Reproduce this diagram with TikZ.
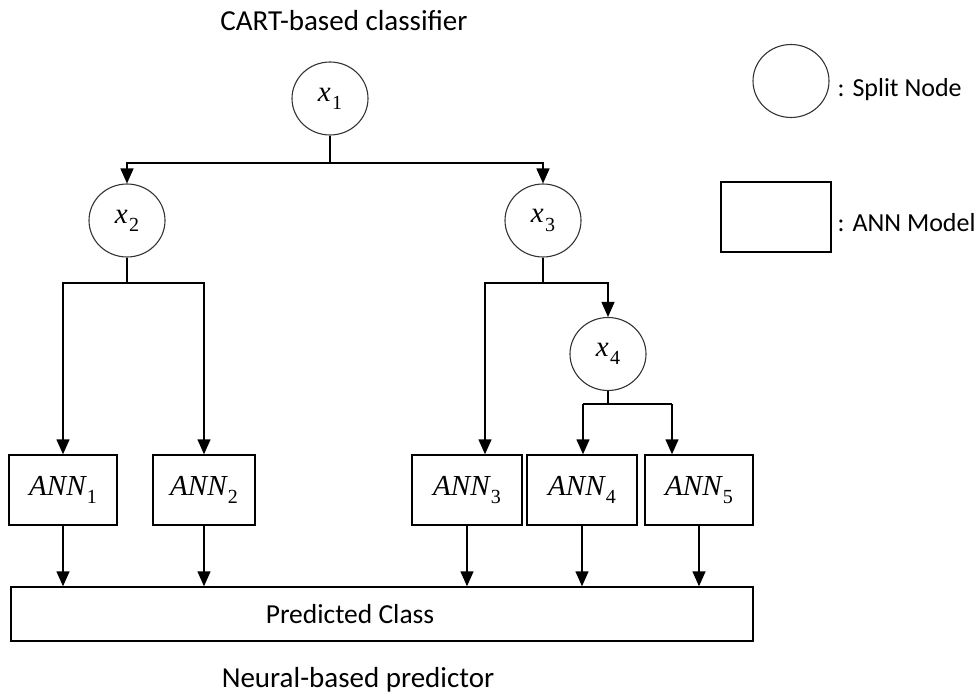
\documentclass[tikz,border=0pt]{standalone}
\usepackage{fontspec}
\setmainfont{Carlito}
\newfontfamily\mvarfont{Liberation Serif}
\newcommand\annsub[1]{\raisebox{-0.28em}{\fontsize{20}{20}\selectfont\upshape #1}}
\newcommand\mvar[2]{{\mvarfont\itshape #1\kern0.04em\annsub{#2}}}
\usetikzlibrary{arrows.meta,shapes.geometric}
\begin{document}
\begin{tikzpicture}[x=1pt,y=-1pt,
  line width=1.4pt,
  splitnode/.style={ellipse,draw=black!80,line width=1.1pt,minimum width=76pt,minimum height=73pt,inner sep=0pt,font=\fontsize{29}{30}\selectfont},
  annbox/.style={rectangle,draw,line width=1.4pt,minimum height=70pt,inner sep=0pt,font=\fontsize{29}{30}\selectfont},
  arr/.style={-{Triangle[width=13pt,length=15pt]},line width=1.4pt},
  lbl/.style={font=\fontsize{26}{30}\selectfont,inner sep=0pt},
  ttl/.style={font=\fontsize{29}{32}\selectfont,inner sep=0pt}]
\useasboundingbox (0,0) rectangle (979,695);

% titles
\node[ttl] (title) at (344,21) {CART-based classifier};
\node[ttl] (bottom) at (358,680) {Neural-based predictor};

% split nodes
\node[splitnode] (x1) at (330,98.5) {\raisebox{0.15em}{\mvar{x}{1}}};
\node[splitnode] (x2) at (127,220.5) {\raisebox{0.15em}{\mvar{x}{2}}};
\node[splitnode] (x3) at (543,220.5) {\raisebox{0.15em}{\mvar{x}{3}}};
\node[splitnode] (x4) at (608,354) {\raisebox{0.15em}{\mvar{x}{4}}};

% ANN boxes
\node[annbox,minimum width=108pt] (a1) at (63,490) {\raisebox{0.2em}{\mvar{ANN}{1}}};
\node[annbox,minimum width=102pt] (a2) at (204,490) {\raisebox{0.2em}{\mvar{ANN}{2}}};
\node[annbox,minimum width=110pt] (a3) at (467,490) {\raisebox{0.2em}{\mvar{ANN}{3}}};
\node[annbox,minimum width=110pt] (a4) at (582,490) {\raisebox{0.2em}{\mvar{ANN}{4}}};
\node[annbox,minimum width=108pt] (a5) at (699,490) {\raisebox{0.2em}{\mvar{ANN}{5}}};

% predicted class
\node[draw,line width=1.4pt,minimum width=742pt,minimum height=54pt,inner sep=0pt] (pred) at (382,614) {};
\node[lbl,font=\fontsize{27.5}{30}\selectfont] (predtext) at (350,614) {Predicted Class};

% legend
\node[splitnode] (lgc) at (791,81) {};
\node[lbl,anchor=base west] (lgct) at (837,97) {: Split Node};
\node[annbox,minimum width=110pt,minimum height=70pt] (lgr) at (776,217) {};
\node[lbl,anchor=base west] (lgrt) at (837,231) {: ANN Model};

% connectors
\coordinate (j1) at (330,163);
\draw (x1.south) -- (j1);
\draw[arr] (j1) -| (x2.north);
\draw[arr] (j1) -| (x3.north);

\coordinate (j2) at (127,283);
\draw (x2.south) -- (j2);
\draw[arr] (j2) -| (a1.north);
\draw[arr] (j2) -| (a2.north);

\coordinate (j3) at (543,283);
\coordinate (b3) at (485,283);
\draw (x3.south) -- (j3);
\draw[arr] (j3) -- (b3) -- (b3 |- a3.north);
\draw[arr] (j3) -| (x4.north);

\coordinate (j4) at (608,404);
\coordinate (b4) at (583,404);
\coordinate (b5) at (672,404);
\draw (x4.south) -- (j4);
\draw (b4) -- (b5);
\draw[arr] (b4) -- (b4 |- a4.north);
\draw[arr] (b5) -- (b5 |- a5.north);

\draw[arr] (a1.south) -- (a1.south |- pred.north);
\draw[arr] (a2.south) -- (a2.south |- pred.north);
\draw[arr] (a3.south) -- (a3.south |- pred.north);
\draw[arr] (a4.south) -- (a4.south |- pred.north);
\draw[arr] (a5.south) -- (a5.south |- pred.north);
\end{tikzpicture}
\end{document}
